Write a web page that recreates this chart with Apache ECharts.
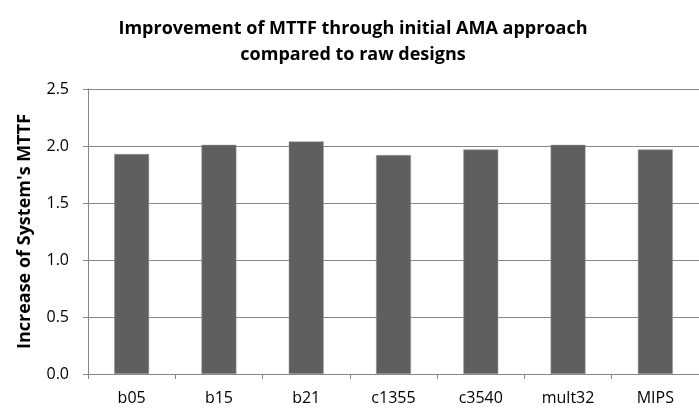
<!DOCTYPE html>
<html>
<head>
<meta charset="utf-8">
<script src="https://cdn.jsdelivr.net/npm/echarts@6/dist/echarts.min.js"></script>
<style>
    html, body { margin: 0; padding: 0; background: #fff; }
    #chart { width: 699px; height: 412px; }
</style>
</head>
<body>
<div id="chart"></div>
<script>
const designs = ['b05', 'b15', 'b21', 'c1355', 'c3540', 'mult32', 'MIPS'];
const mttfIncrease = [1.93, 2.01, 2.04, 1.92, 1.97, 2.01, 1.97];
const yTicks = [0.0, 0.5, 1.0, 1.5, 2.0, 2.5];

const font = '"Open Sans", sans-serif';

const option = {
    animation: false,
    title: {
        text: 'Improvement of MTTF through initial AMA approach\ncompared to raw designs',
        left: 348,
        top: 11,
        textAlign: 'center',
        textStyle: {
            fontFamily: font,
            fontWeight: 'bold',
            fontSize: 18,
            lineHeight: 26,
            color: '#000'
        }
    },
    grid: {
        left: 88,
        right: -10,
        top: 89,
        bottom: 38
    },
    xAxis: {
        type: 'category',
        data: designs,
        boundaryGap: true,
        axisLine: { lineStyle: { color: '#868686', width: 1 } },
        axisTick: { show: true, length: 5, lineStyle: { color: '#868686' } },
        axisLabel: {
            margin: 16,
            fontFamily: font,
            fontSize: 16,
            color: '#000'
        }
    },
    yAxis: {
        type: 'value',
        min: 0,
        max: 2.5,
        interval: 0.5,
        name: "Increase of System's MTTF",
        nameLocation: 'middle',
        nameGap: 54,
        nameTextStyle: {
            fontFamily: font,
            fontWeight: 'bold',
            fontSize: 18,
            color: '#000'
        },
        axisLine: { show: true, lineStyle: { color: '#868686', width: 1 } },
        axisTick: { show: true, length: 5, lineStyle: { color: '#868686' } },
        splitLine: { lineStyle: { color: '#868686', width: 1 } },
        axisLabel: {
            margin: 19,
            fontFamily: font,
            fontSize: 16,
            color: '#000',
            formatter: v => yTicks.includes(v) ? v.toFixed(1) : ''
        }
    },
    series: [{
        type: 'bar',
        data: mttfIncrease,
        barWidth: '40%',
        itemStyle: {
            color: '#5f5f5f',
            borderColor: '#9a9a9a',
            borderWidth: 0.5
        }
    }]
};

const chart = echarts.init(document.getElementById('chart'));
chart.setOption(option);
window.addEventListener('resize', () => chart.resize());
</script>
</body>
</html>
